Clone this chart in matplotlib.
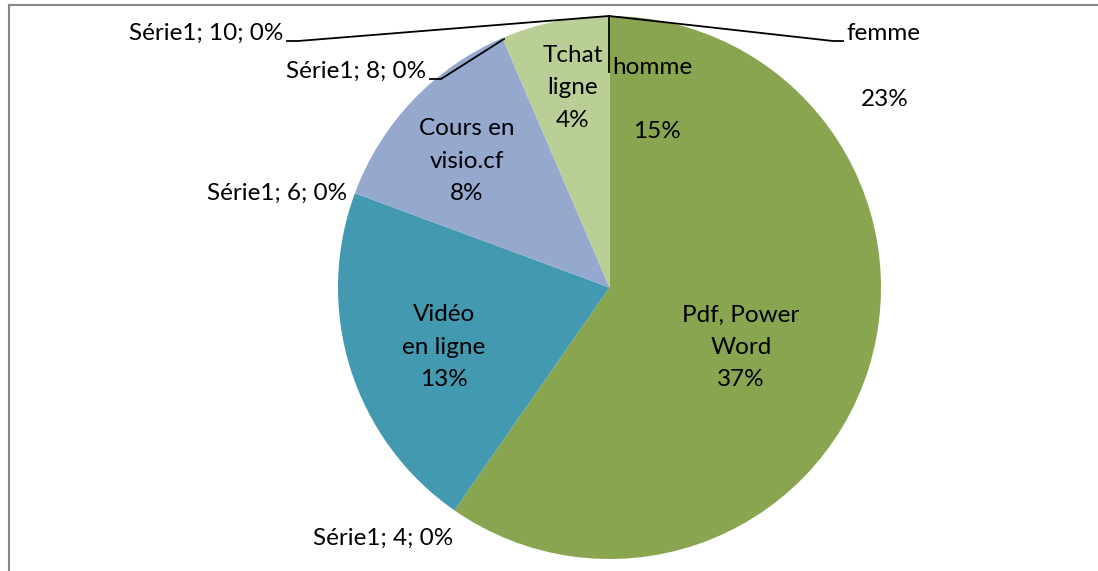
import matplotlib.pyplot as plt
from matplotlib.lines import Line2D

# data
categories = ["Pdf, Power\nWord", "Vidéo\nen ligne", "Cours en\nvisio.cf", "Tchat\nligne"]
values = [37, 13, 8, 4]
shown_pct = ["37%", "13%", "8%", "4%"]
colors = ["#8aa54f", "#4399b0", "#95a9cf", "#b9cf96"]

extra_names = ["homme", "femme"]
extra_pct = ["15%", "23%"]

serie_vals = [10, 8, 6, 4]
serie_labels = ["Série1; %d; 0%%" % v for v in serie_vals]

W, H = 1098, 571
CX, CY, R = 609.5, 287.5, 271.5


def px(x, y):
    # pixel (from top-left) -> data units (pie radius = 1)
    return (x - CX) / R, (CY - y) / R


plt.rcParams['font.family'] = ['Lato', 'DejaVu Sans']
fig = plt.figure(figsize=(W / 100, H / 100), dpi=100)
ax = fig.add_axes([0, 0, 1, 1])

wedges, _ = ax.pie(values, colors=colors, startangle=90, counterclock=False,
                   radius=1, wedgeprops=dict(linewidth=0))
ax.set_xlim(-CX / R, (W - CX) / R)
ax.set_ylim(-(H - CY) / R, CY / R)
ax.set_aspect('auto')
ax.axis('off')

fs = 17.5
tk = dict(fontsize=fs, color="#000000", linespacing=1.65)

# labels inside slices
inside_pos = [(741, 347), (444, 347), (467, 161), (573, 88)]
for name, pct, (x, y) in zip(categories, shown_pct, inside_pos):
    ax.text(*px(x, y), name + "\n" + pct, ha='center', va='center', **tk)

# homme / femme labels
ax.plot(*zip(px(609, 16), px(609, 72)), color='black', lw=1.3)
ax.text(*px(612, 67), extra_names[0], ha='left', va='center', **tk)
ax.text(*px(657, 131), extra_pct[0], ha='center', va='center', **tk)
ax.plot(*zip(px(609, 16), px(833, 41), px(843, 41)), color='black', lw=1.3)
ax.text(*px(846, 33), extra_names[1], ha='left', va='center', **tk)
ax.text(*px(885, 100), extra_pct[1], ha='center', va='center', **tk)

# zero-value series labels
ax.plot(*zip(px(287, 41), px(298, 41), px(609, 16)), color='black', lw=1.3)
ax.text(*px(283, 33), serie_labels[0], ha='right', va='center', **tk)
ax.plot(*zip(px(430, 79), px(441, 79), px(504, 39)), color='black', lw=1.3)
ax.text(*px(426, 71), serie_labels[1], ha='right', va='center', **tk)
ax.text(*px(347, 193), serie_labels[2], ha='right', va='center', **tk)
ax.text(*px(383, 538), serie_labels[3], ha='center', va='center', **tk)

# chart frame (cropped)
fig.add_artist(Line2D([8.5 / W, 8.5 / W], [0, 1 - 5 / H], transform=fig.transFigure,
                      color='#868686', lw=1.5))
fig.add_artist(Line2D([8.5 / W, 1], [1 - 5 / H, 1 - 5 / H], transform=fig.transFigure,
                      color='#868686', lw=1.5))

fig.savefig("out.png", dpi=100, facecolor='white')
